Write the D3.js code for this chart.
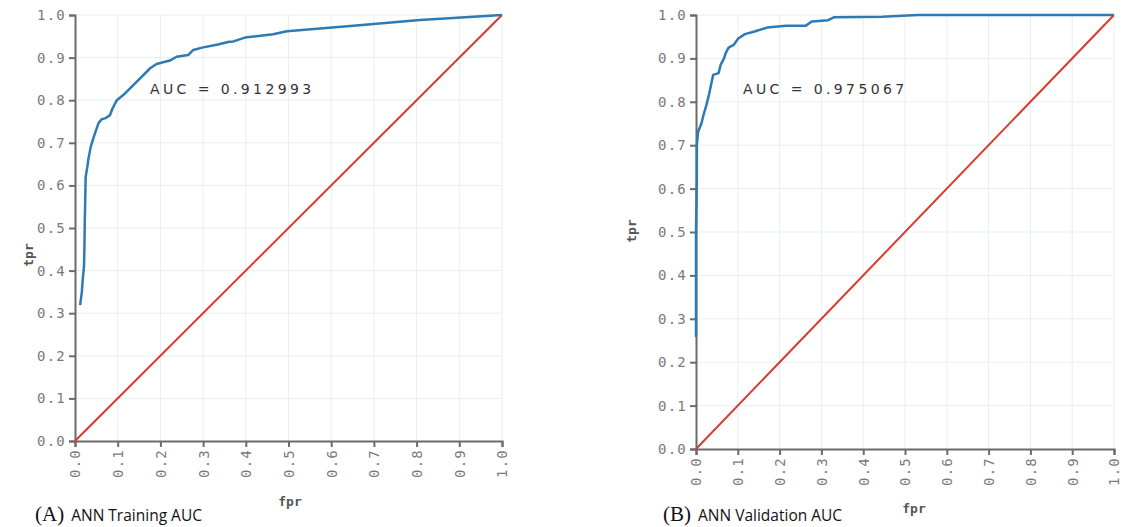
<!DOCTYPE html>
<html>
<head>
<meta charset="utf-8">
<script src="https://cdn.jsdelivr.net/npm/d3@7"></script>
<style>
  body { margin: 0; background: #fff; }
  svg { display: block; }
</style>
</head>
<body>
<div id="chart"></div>
<script>
// INITIALIZE THE DATA //

const ticks = [0, 0.1, 0.2, 0.3, 0.4, 0.5, 0.6, 0.7, 0.8, 0.9, 1.0];

// Training ROC curve (panel A)
const trainFpr = [0.012, 0.016, 0.018, 0.021, 0.022, 0.023, 0.025, 0.029, 0.031, 0.037, 0.044, 0.055, 0.062, 0.072, 0.082, 0.088, 0.098, 0.113, 0.133, 0.156, 0.176, 0.191, 0.222, 0.238, 0.265, 0.277, 0.3, 0.332, 0.361, 0.371, 0.398, 0.464, 0.496, 0.652, 0.808, 1.0];
const trainTpr = [0.319, 0.35, 0.378, 0.409, 0.45, 0.519, 0.62, 0.644, 0.66, 0.691, 0.714, 0.746, 0.755, 0.758, 0.765, 0.781, 0.8, 0.812, 0.832, 0.855, 0.875, 0.885, 0.893, 0.902, 0.906, 0.918, 0.924, 0.93, 0.937, 0.938, 0.947, 0.955, 0.962, 0.975, 0.988, 1.0];

// Validation ROC curve (panel B)
const valFpr = [0, 0, 0.002, 0.002, 0.005, 0.013, 0.018, 0.025, 0.031, 0.036, 0.041, 0.054, 0.059, 0.067, 0.071, 0.078, 0.09, 0.101, 0.117, 0.14, 0.17, 0.216, 0.262, 0.277, 0.316, 0.331, 0.446, 0.53, 1.0];
const valTpr = [0.258, 0.5, 0.624, 0.7, 0.731, 0.75, 0.77, 0.793, 0.816, 0.839, 0.862, 0.866, 0.885, 0.9, 0.912, 0.925, 0.931, 0.946, 0.956, 0.962, 0.971, 0.975, 0.975, 0.985, 0.988, 0.995, 0.996, 1.0, 1.0];

const diagonal = [0, 1];

const panels = [
  {
    fpr: trainFpr, tpr: trainTpr, auc: "AUC = 0.912993",
    letter: "(A)", caption: "ANN Training AUC",
    x: [75, 502], y: [441, 15],
    aucPos: [150, 94], tprPos: [33, 255], fprPos: [290, 506], capPos: [35, 521],
  },
  {
    fpr: valFpr, tpr: valTpr, auc: "AUC = 0.975067",
    letter: "(B)", caption: "ANN Validation AUC",
    x: [696, 1114], y: [449, 15],
    aucPos: [743, 94], tprPos: [636, 231], fprPos: [914, 513], capPos: [663, 521],
  },
];

// DEFINE FUNCTIONS //

const dimensions = { width: 1124, height: 527 };

const svg = d3
  .select("#chart")
  .append("svg")
  .attr("width", dimensions.width)
  .attr("height", dimensions.height);

function makePanel(p) {
  const xScale = d3.scaleLinear().domain([0, 1]).range(p.x);
  const yScale = d3.scaleLinear().domain([0, 1]).range(p.y);
  const g = svg.append("g");

  // Gridlines
  g.append("g")
    .selectAll("line")
    .data(ticks.slice(1))
    .join("line")
    .attr("x1", (d) => xScale(d))
    .attr("x2", (d) => xScale(d))
    .attr("y1", p.y[0])
    .attr("y2", p.y[1])
    .attr("stroke", "#e9eef1")
    .attr("stroke-width", 1);
  g.append("g")
    .selectAll("line")
    .data(ticks.slice(1))
    .join("line")
    .attr("y1", (d) => yScale(d))
    .attr("y2", (d) => yScale(d))
    .attr("x1", p.x[0])
    .attr("x2", p.x[1])
    .attr("stroke", "#e9eef1")
    .attr("stroke-width", 1);

  // Axes
  const xAxis = d3.axisBottom(xScale).tickValues(ticks).tickFormat(d3.format(".1f")).tickSize(6).tickSizeOuter(6);
  const yAxis = d3.axisLeft(yScale).tickValues(ticks).tickFormat(d3.format(".1f")).tickSize(6).tickSizeOuter(6);

  const gx = g.append("g")
    .attr("transform", `translate(0,${p.y[0]})`)
    .call(xAxis);
  gx.selectAll("text")
    .attr("transform", "rotate(-90)")
    .attr("text-anchor", "end")
    .attr("x", -8)
    .attr("y", 0)
    .attr("dy", "0.35em");

  const gy = g.append("g")
    .attr("transform", `translate(${p.x[0]},0)`)
    .call(yAxis);
  gy.selectAll("text").attr("x", -9);

  g.selectAll(".domain, .tick line")
    .attr("stroke", "#6b6b6b")
    .attr("stroke-width", 2);
  g.selectAll(".tick text")
    .attr("fill", "#7a7a7a")
    .style("font-family", "'DejaVu Sans Mono', monospace")
    .style("font-size", "14px")
    .style("letter-spacing", "1.2px");

  // Diagonal reference line
  g.append("path")
    .datum(diagonal)
    .attr("fill", "none")
    .attr("stroke", "#d93a2b")
    .attr("stroke-width", 2)
    .attr("d", d3.line().x((d) => xScale(d)).y((d) => yScale(d)));

  // ROC curve
  const curve = p.fpr.map((f, i) => ({ fpr: f, tpr: p.tpr[i] }));
  g.append("path")
    .datum(curve)
    .attr("fill", "none")
    .attr("stroke", "#2e7ab5")
    .attr("stroke-width", 2.5)
    .attr("stroke-linejoin", "round")
    .attr("d", d3.line().x((d) => xScale(d.fpr)).y((d) => yScale(d.tpr)));

  // AUC label
  g.append("text")
    .attr("x", p.aucPos[0])
    .attr("y", p.aucPos[1])
    .attr("fill", "#333")
    .style("font-family", "'DejaVu Sans', sans-serif")
    .style("font-size", "14px")
    .style("letter-spacing", "3.4px")
    .text(p.auc);

  // Axis titles
  g.append("text")
    .attr("transform", `translate(${p.tprPos[0]},${p.tprPos[1]}) rotate(-90)`)
    .attr("text-anchor", "middle")
    .attr("fill", "#555")
    .style("font-family", "'DejaVu Sans Mono', monospace")
    .style("font-weight", "bold")
    .style("font-size", "13px")
    .text("tpr");
  g.append("text")
    .attr("x", p.fprPos[0])
    .attr("y", p.fprPos[1])
    .attr("text-anchor", "middle")
    .attr("fill", "#555")
    .style("font-family", "'DejaVu Sans Mono', monospace")
    .style("font-weight", "bold")
    .style("font-size", "13px")
    .text("fpr");

  // Panel caption
  const cap = g.append("text")
    .attr("x", p.capPos[0])
    .attr("y", p.capPos[1])
    .attr("fill", "#111");
  cap.append("tspan")
    .style("font-family", "'Liberation Serif', serif")
    .style("font-size", "21px")
    .text(p.letter);
  cap.append("tspan")
    .attr("dx", 7)
    .style("font-family", "'Open Sans', sans-serif")
    .style("font-size", "15.5px")
    .text(p.caption);
}

panels.forEach(makePanel);
</script>
</body>
</html>
